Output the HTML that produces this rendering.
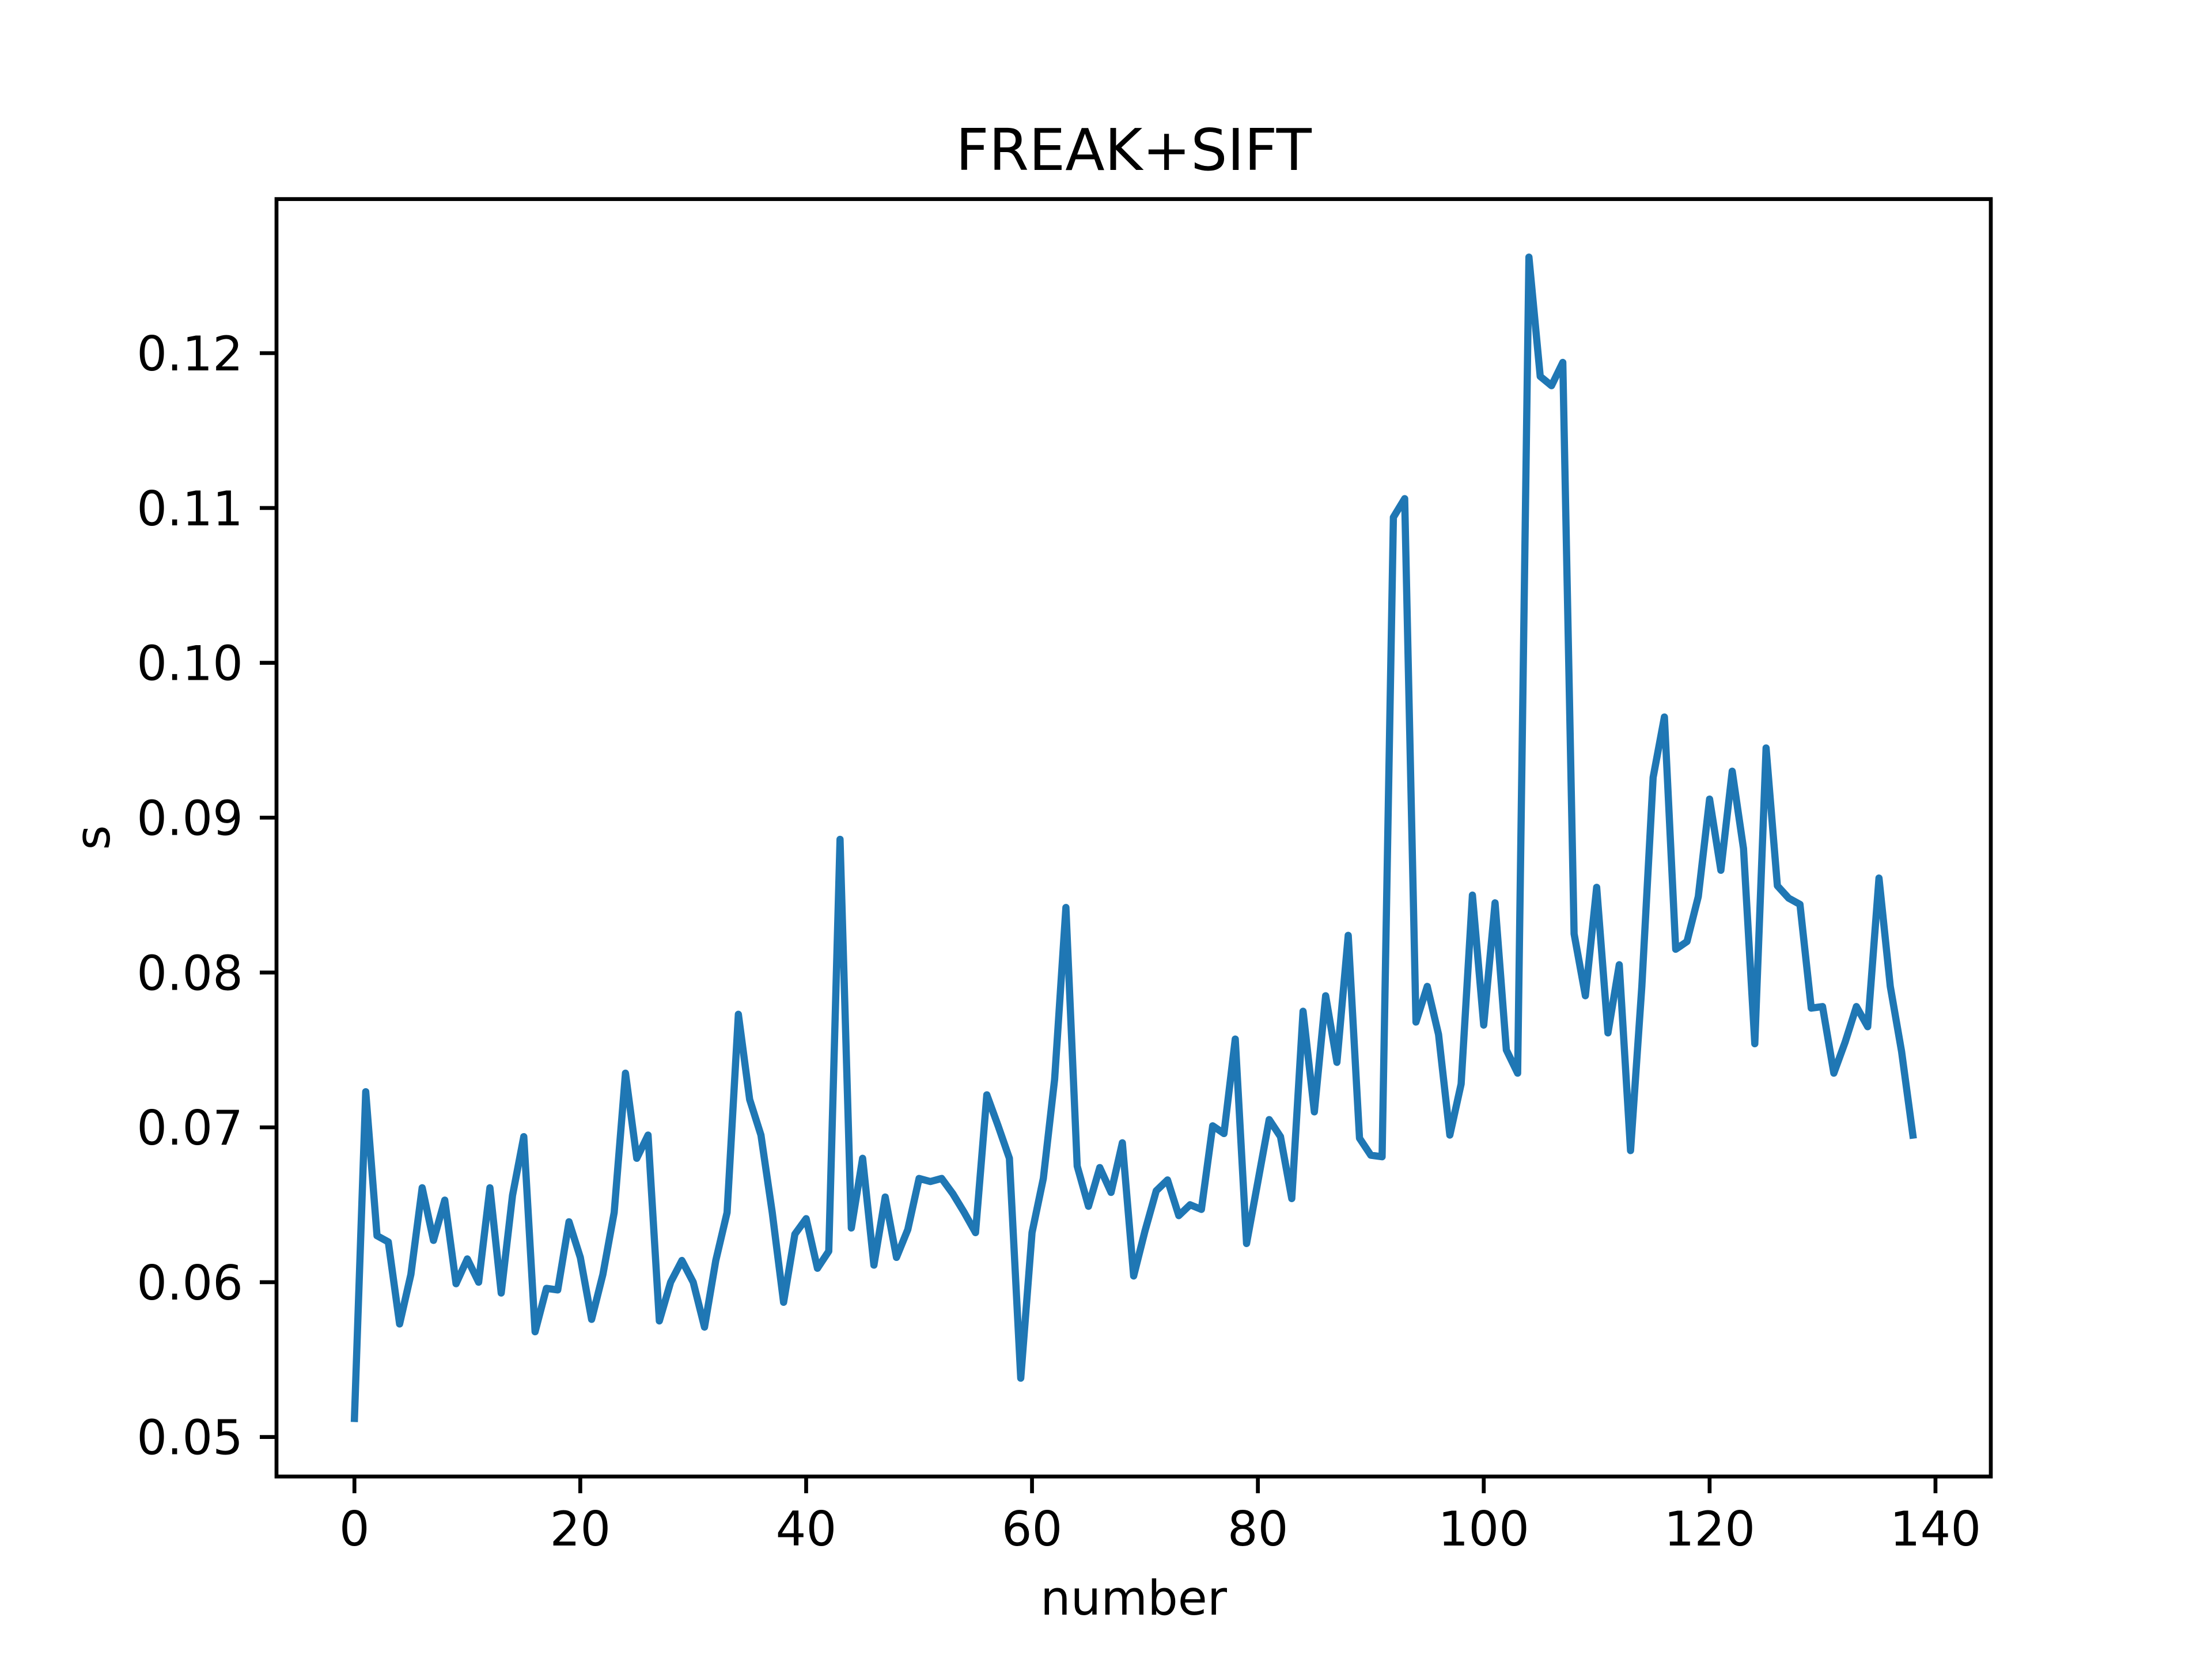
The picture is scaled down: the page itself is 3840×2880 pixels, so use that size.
<!DOCTYPE html>
<html><head><meta charset="utf-8"><style>html,body{margin:0;padding:0;background:#fff}svg{display:block}</style></head>
<body>
<svg id="chart" width="3840" height="2880" viewBox="0 0 3840 2880" xmlns="http://www.w3.org/2000/svg" font-family="'DejaVu Sans','Liberation Sans',sans-serif">
<rect width="3840" height="2880" fill="#fff"/>
<text x="1968" y="295" font-size="100" text-anchor="middle">FREAK+SIFT</text>
<text x="1968" y="2803" font-size="83" text-anchor="middle">number</text>
<text x="190" y="1454" font-size="83" text-anchor="middle" transform="rotate(-90 190 1454)">s</text>
<g id="plot"></g>
</svg>
<script>
const values = [0.0512,0.0723,0.0630,0.0626,0.0573,0.0605,0.0661,0.0627,0.0653,0.0599,0.0615,0.0600,0.0661,0.0593,0.0656,0.0694,0.0568,0.0596,0.0595,0.0639,0.0616,0.0576,0.0605,0.0645,0.0735,0.0680,0.0695,0.0575,0.0600,0.0614,0.0600,0.0571,0.0614,0.0645,0.0773,0.0718,0.0695,0.0645,0.0587,0.0631,0.0641,0.0609,0.0620,0.0886,0.0635,0.0680,0.0611,0.0655,0.0616,0.0634,0.0667,0.0665,0.0667,0.0657,0.0645,0.0632,0.0721,0.0701,0.0680,0.0538,0.0632,0.0667,0.0731,0.0842,0.0675,0.0649,0.0674,0.0658,0.0690,0.0604,0.0633,0.0659,0.0666,0.0643,0.0650,0.0647,0.0701,0.0696,0.0757,0.0625,0.0665,0.0705,0.0694,0.0654,0.0775,0.0710,0.0785,0.0742,0.0824,0.0693,0.0682,0.0681,0.1094,0.1106,0.0768,0.0791,0.0760,0.0695,0.0728,0.0850,0.0766,0.0845,0.0750,0.0735,0.1262,0.1185,0.1179,0.1194,0.0825,0.0785,0.0855,0.0761,0.0805,0.0685,0.0791,0.0926,0.0965,0.0815,0.0820,0.0849,0.0912,0.0866,0.0930,0.0880,0.0754,0.0945,0.0856,0.0848,0.0844,0.0777,0.0778,0.0735,0.0755,0.0778,0.0765,0.0861,0.0791,0.0749,0.0695];
const xTicks = [0,20,40,60,80,100,120,140];
const yTicks = [0.05,0.06,0.07,0.08,0.09,0.10,0.11,0.12];
const yTickLabels = ["0.05","0.06","0.07","0.08","0.09","0.10","0.11","0.12"];

const L=480,R=3456,T=345.6,B=2563.2;
const n=values.length;
const xmin=0-(n-1)*0.05, xmax=(n-1)*1.05;
const vmin=Math.min(...values), vmax=Math.max(...values), pad=(vmax-vmin)*0.05;
const ymin=vmin-pad, ymax=vmax+pad;
const X=v=>L+(v-xmin)/(xmax-xmin)*(R-L);
const Y=v=>B-(v-ymin)/(ymax-ymin)*(B-T);
const NS="http://www.w3.org/2000/svg";
const g=document.getElementById('plot');
function mk(tag,attrs){const e=document.createElementNS(NS,tag);for(const k in attrs)e.setAttribute(k,attrs[k]);g.appendChild(e);return e;}

const line=mk('polyline',{points:values.map((v,i)=>X(i).toFixed(1)+','+Y(v).toFixed(1)).join(' '),fill:'none',stroke:'#1f77b4','stroke-width':12.5,'stroke-linejoin':'round','stroke-linecap':'square'});



xTicks.forEach(t=>{
  const x=X(t);
  const tk=mk('line',{x1:x,x2:x,y1:B,y2:B+29,stroke:'#000','stroke-width':6.7});
  
  
  const tx=mk('text',{x:x,y:B+29+29+62,'font-size':83,'text-anchor':'middle'});
  tx.textContent=String(t);
  
  
});
yTicks.forEach((t,i)=>{
  const y=Y(t);
  const tk=mk('line',{x1:L-29,x2:L,y1:y,y2:y,stroke:'#000','stroke-width':6.7});
  
  
  const tx=mk('text',{x:L-58,y:y+30,'font-size':83,'text-anchor':'end'});
  tx.textContent=yTickLabels[i];
  
  
});
const frame=mk('rect',{x:L,y:T,width:R-L,height:B-T,fill:'none',stroke:'#000','stroke-width':6.7});


</script>
</body></html>
